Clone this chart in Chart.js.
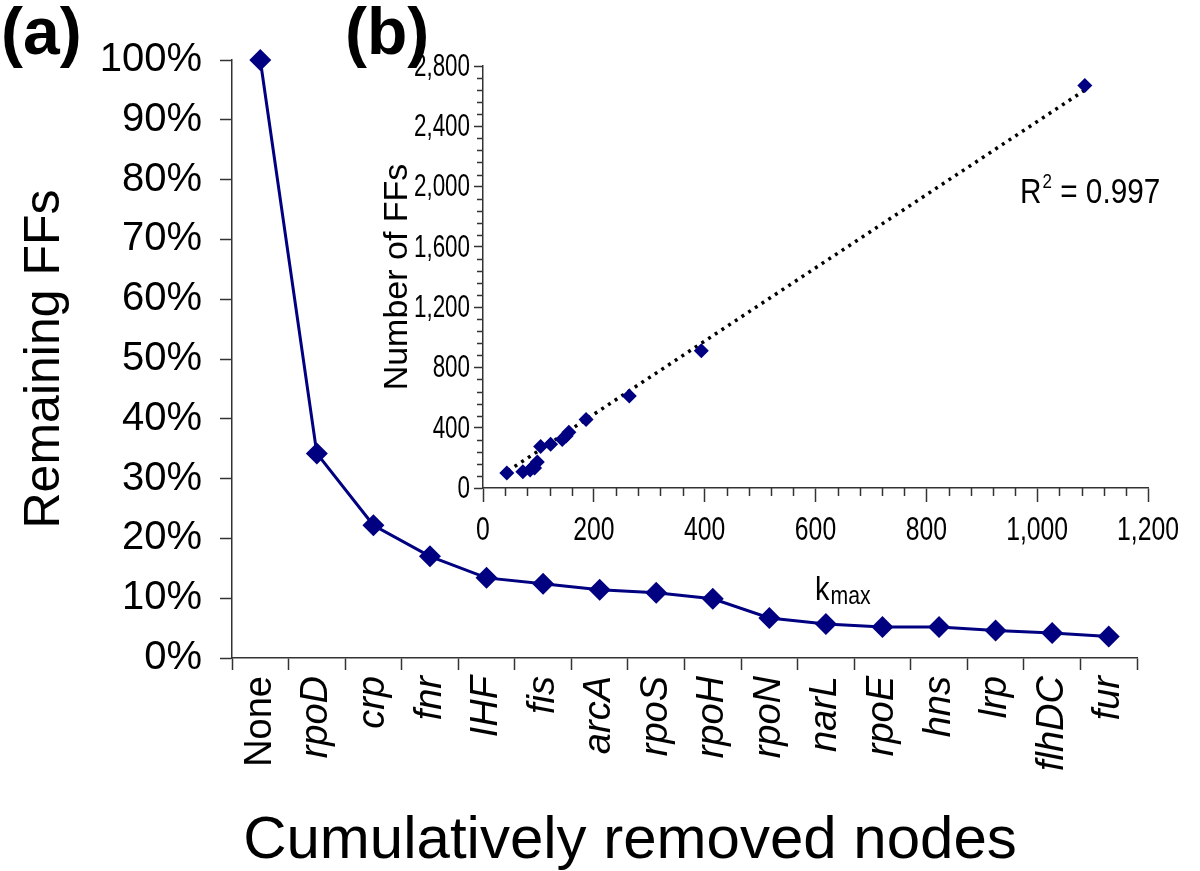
<!DOCTYPE html>
<html>
<head>
<meta charset="utf-8">
<script src="https://cdn.jsdelivr.net/npm/chart.js@4.4.1/dist/chart.umd.min.js"></script>
<style>
  html, body { margin: 0; padding: 0; background: #fff; }
  #wrap { position: relative; width: 1200px; height: 871px; }
  #main { position: absolute; left: 0; top: 0; }
  #inset { position: absolute; left: 340px; top: 30px; }
</style>
</head>
<body>
<div id="wrap">
  <canvas id="main" width="1200" height="871"></canvas>
  <canvas id="inset" width="860" height="580"></canvas>
</div>
<script>
// (a) remaining feed-forward loops after cumulative node removal
const nodes = ['None', 'rpoD', 'crp', 'fnr', 'IHF', 'fis', 'arcA', 'rpoS',
               'rpoH', 'rpoN', 'narL', 'rpoE', 'hns', 'lrp', 'flhDC', 'fur'];
const remainingPct = [100, 34.2, 22.2, 17.0, 13.4, 12.4, 11.4, 10.9,
                      9.9, 6.7, 5.7, 5.2, 5.2, 4.6, 4.2, 3.6];

// (b) number of FFs vs k_max
const kmax = [43, 72, 85, 90, 93, 98, 104, 122, 143, 150, 155, 186, 264, 394, 1086];
const ffCount = [100, 108, 120, 140, 132, 172, 275, 290, 322, 345, 370, 455, 610, 910, 2670];
const trendX = [45, 1086];
const trendY = [113, 2640];
const rSquared = '0.997';

const NAVY = '#000080';
const AXIS = '#333';
const FONT = "'Liberation Sans', Arial, Helvetica, sans-serif";

Chart.defaults.font.family = FONT;
Chart.defaults.color = '#000';

// the inset uses a condensed face; no narrow font is installed, so squeeze it
function narrowText(ctx, text, x, y, size, align, baseline, squeeze) {
    ctx.save();
    ctx.font = size + 'px ' + FONT;
    ctx.textAlign = align;
    ctx.textBaseline = baseline;
    ctx.translate(x, y);
    ctx.scale(squeeze, 1);
    ctx.fillText(text, 0, 0);
    const w = ctx.measureText(text).width * squeeze;
    ctx.restore();
    return w;
}

// panel letters + x title of the main chart
const mainText = {
    id: 'mainText',
    afterDraw(chart) {
        const ctx = chart.ctx;
        ctx.save();
        ctx.fillStyle = '#000';
        ctx.textBaseline = 'alphabetic';
        ctx.font = 'bold 66px ' + FONT;
        ctx.textAlign = 'left';
        ctx.fillText('(a)', 1, 54);
        ctx.fillText('(b)', 345, 54);
        ctx.font = '60px ' + FONT;
        ctx.textAlign = 'center';
        ctx.fillText('Cumulatively removed nodes', 630, 858);
        ctx.restore();
    }
};

new Chart(document.getElementById('main'), {
    type: 'line',
    data: {
        labels: nodes,
        datasets: [{
            data: remainingPct,
            borderColor: NAVY,
            backgroundColor: NAVY,
            borderWidth: 3,
            pointStyle: 'rectRot',
            pointRadius: 11,
            pointBorderWidth: 0,
            tension: 0,
            clip: false
        }]
    },
    options: {
        responsive: false,
        animation: false,
        layout: { padding: { top: 60, right: 63, left: 0, bottom: 0 } },
        plugins: { legend: { display: false }, tooltip: { enabled: false } },
        scales: {
            x: {
                offset: true,
                grid: { offset: true, drawOnChartArea: false, tickLength: 12, color: AXIS, tickWidth: 1.5 },
                border: { color: AXIS, width: 1.5 },
                ticks: {
                    autoSkip: false,
                    minRotation: 90,
                    maxRotation: 90,
                    padding: 6,
                    font: (c) => ({ family: FONT, size: 38, style: c.index === 0 ? 'normal' : 'italic' })
                },
                afterFit: (s) => { s.height = 213; }
            },
            y: {
                min: 0,
                max: 100,
                ticks: { stepSize: 10, callback: (v) => v + '%', font: { size: 40 }, padding: 18 },
                grid: { drawOnChartArea: false, tickLength: 12, color: AXIS, tickWidth: 1.5 },
                border: { color: AXIS, width: 1.5 },
                title: { display: true, text: 'Remaining FFs', font: { size: 50 }, padding: { top: 15, bottom: 0 } },
                afterFit: (s) => { s.width = 232; }
            }
        }
    },
    plugins: [mainText]
});

// tick labels, minor ticks, R^2 and k_max label for the inset
const minorStepX = 40;
const minorStepY = 80;
const insetText = {
    id: 'insetText',
    afterDraw(chart) {
        const ctx = chart.ctx;
        const xs = chart.scales.x, ys = chart.scales.y;
        const area = chart.chartArea;
        ctx.save();
        ctx.strokeStyle = AXIS;
        ctx.lineWidth = 1.5;
        ctx.beginPath();
        for (let v = xs.min; v <= xs.max; v += minorStepX) {
            if (v % 200 === 0) continue;
            const px = Math.round(xs.getPixelForValue(v)) + 0.5;
            ctx.moveTo(px, area.bottom);
            ctx.lineTo(px, area.bottom + 8);
        }
        for (let v = ys.min; v <= ys.max; v += minorStepY) {
            if (v % 400 === 0) continue;
            const py = Math.round(ys.getPixelForValue(v)) + 0.5;
            ctx.moveTo(area.left, py);
            ctx.lineTo(area.left - 6, py);
        }
        ctx.stroke();

        ctx.fillStyle = '#000';
        xs.ticks.forEach((t) => {
            narrowText(ctx, t.value.toLocaleString('en-US'), xs.getPixelForValue(t.value), area.bottom + 43, 33, 'center', 'middle', 0.75);
        });
        ys.ticks.forEach((t) => {
            narrowText(ctx, t.value.toLocaleString('en-US'), area.left - 13, ys.getPixelForValue(t.value) + 1, 32, 'right', 'middle', 0.7);
        });

        let x = area.left + 537;
        const y = area.top + 137;
        x += narrowText(ctx, 'R', x, y, 35, 'left', 'alphabetic', 0.85);
        x += narrowText(ctx, '2', x + 1, y - 15, 20, 'left', 'alphabetic', 0.85) + 1;
        narrowText(ctx, ' = ' + rSquared, x, y, 35, 'left', 'alphabetic', 0.85);

        let kx = area.left + 332;
        const ky = area.bottom + 112;
        kx += narrowText(ctx, 'k', kx, ky, 34, 'left', 'alphabetic', 0.85);
        narrowText(ctx, 'max', kx + 1, ky + 4, 25, 'left', 'alphabetic', 0.85);
        ctx.restore();
    }
};

new Chart(document.getElementById('inset'), {
    type: 'scatter',
    data: {
        datasets: [{
            data: kmax.map((x, i) => ({ x: x, y: ffCount[i] })),
            pointStyle: 'rectRot',
            pointRadius: 7.5,
            backgroundColor: NAVY,
            pointBorderWidth: 0,
            clip: false,
            order: 0
        }, {
            type: 'line',
            data: trendX.map((x, i) => ({ x: x, y: trendY[i] })),
            borderColor: '#000',
            borderWidth: 3.5,
            borderDash: [3, 5],
            pointRadius: 0,
            fill: false,
            order: 1
        }]
    },
    options: {
        responsive: false,
        animation: false,
        layout: { padding: { top: 36, right: 52, left: 0, bottom: 0 } },
        plugins: { legend: { display: false }, tooltip: { enabled: false } },
        scales: {
            x: {
                type: 'linear',
                min: 0,
                max: 1200,
                ticks: { stepSize: 200, display: false },
                grid: { drawOnChartArea: false, tickLength: 14, color: AXIS, tickWidth: 1.5 },
                border: { color: AXIS, width: 1.5 },
                afterFit: (s) => { s.height = 122; }
            },
            y: {
                min: 0,
                max: 2800,
                ticks: { stepSize: 400, display: false },
                grid: { drawOnChartArea: false, tickLength: 9, color: AXIS, tickWidth: 1.5 },
                border: { color: AXIS, width: 1.5 },
                title: { display: true, text: 'Number of FFs', font: { size: 34 }, padding: { top: 37, bottom: 0 } },
                afterFit: (s) => { s.width = 143; }
            }
        }
    },
    plugins: [insetText]
});
</script>
</body>
</html>
